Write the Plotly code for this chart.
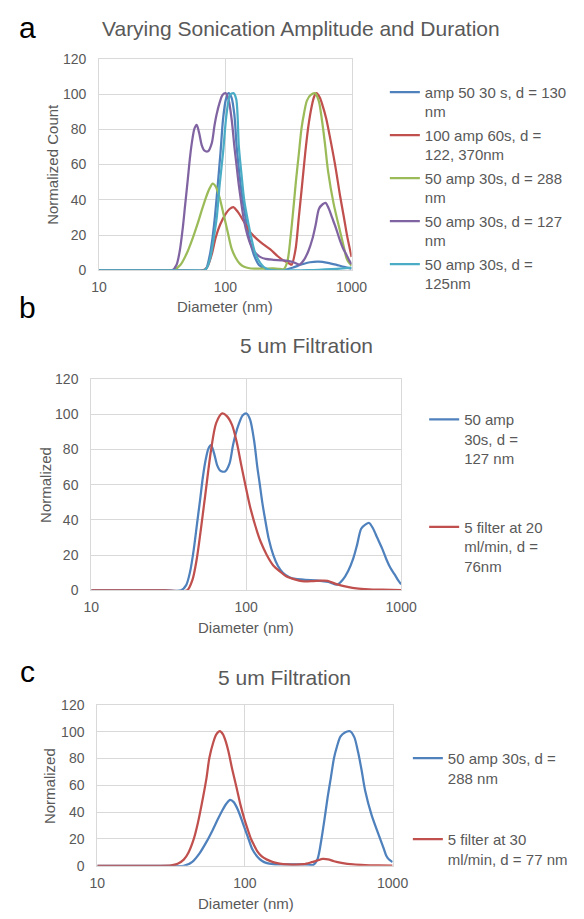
import plotly.graph_objects as go

W, H = 584, 919

# ---------------- data (diameter nm, normalized value) ----------------
# Panel a
a_blue_d = [10, 40, 66, 70, 75, 79, 82.6, 87, 91.6, 96, 101, 106, 112, 118, 123, 130, 137, 144.5, 155, 168, 184.5, 210, 250, 290, 340, 400, 470, 550, 650, 750, 870, 1000]
a_blue_v = [0, 0, 0, 0.5, 8, 18, 30, 48, 67, 86, 97, 100.5, 98, 88, 70, 53, 40, 30, 18, 9, 3, 0.8, 0.3, 0.3, 1.5, 3.3, 4.6, 4.9, 4.2, 3.2, 2.0, 1.0]

a_red_d = [10, 40, 66.6, 72, 78, 84, 91, 100, 108, 115.6, 126, 142, 160, 190, 226, 260, 290, 321, 335, 360, 382, 405, 430, 455, 483, 505, 527, 560, 592, 630, 668, 740, 812, 870, 925, 1000]
a_red_v = [0, 0, 0, 2, 9, 18.8, 26, 31.8, 34.8, 35.9, 33, 27, 21, 16, 12, 8, 5.5, 3.9, 3.2, 12, 30, 48, 67, 82, 93, 98.5, 100.5, 98, 93, 86, 77, 60, 42, 30, 19, 7.6]

# "50 amp 30s, d = 288 nm" (green in a, blue in c)
s288_d = [10, 30, 38.5, 44, 49.4, 55, 60.4, 65, 70.2, 75, 79.4, 84, 90, 97, 104.4, 112, 121, 130, 141, 155, 172, 200, 240, 270, 290, 310, 329, 346, 363, 382, 401, 420, 443, 475, 515, 550, 583, 615, 652, 720, 813, 870, 910, 950, 1000]
s288_v = [0, 0, 0, 3, 9.5, 18, 26.6, 34, 41.3, 46.5, 49.2, 47.5, 41.3, 31.5, 21.8, 12.5, 7, 3.8, 2, 1.2, 1, 1, 1.1, 0.8, 0.6, 5, 19.3, 35, 51, 66, 80.4, 89, 96.3, 99.5, 100.4, 96, 85, 72, 56, 38, 21.8, 13, 7.1, 4.5, 2.7]

# "50 amp 30s, d = 127 nm" (purple in a, blue in b)
s127_d = [10, 30, 38, 41, 43.5, 46, 48, 50.5, 52.6, 55, 57, 59.3, 62, 65, 68, 73, 78, 82, 85, 90, 95, 100.5, 106, 112.5, 118, 122.5, 127, 132.7, 140, 149.6, 160, 172.5, 190, 208.5, 240, 291, 340, 387, 420, 455, 491, 520, 552, 590, 622, 660, 700, 752, 800, 850, 910, 960, 1000]
s127_v = [0, 0, 0, 3, 10.8, 24, 36.8, 52, 64.7, 75, 80.5, 82.5, 78, 71, 68, 67.5, 72, 82, 88, 95, 99.5, 100.5, 97, 85, 70, 60, 50, 40, 29, 20, 14, 10, 7.5, 6.5, 6, 5.6, 4.8, 3.3, 6, 11, 18.2, 26, 35, 37.5, 38.3, 35, 30, 24, 18, 13, 8.9, 5.5, 3.5]

a_cyan_d = [10, 60, 68, 72, 76, 80, 85.5, 90, 96, 102, 109, 116, 122, 128, 134, 141, 150, 160, 172, 190, 210, 240, 350, 450, 550, 700, 850, 1000]
a_cyan_v = [0, 0, 0, 2, 7, 16, 30, 48, 67, 88, 99.5, 100.5, 97, 70, 55, 40, 29, 19, 10, 4, 1, 0, 0, 0.1, 0.3, 0.7, 1.1, 1.5]

# Panel b red: "5 filter at 20 ml/min, d = 76nm"
b_red_d = [10, 30, 41.5, 45, 48, 54, 59.3, 64, 70, 75, 81, 87, 93, 102, 107, 118, 124, 136, 150, 165, 181, 208, 229, 263, 305, 335, 387, 450, 514, 620, 752, 1000]
b_red_v = [0, 0, 0, 6, 18, 51.7, 79.6, 95, 100.5, 99, 94, 84, 71, 54, 46, 33, 27.6, 20, 14, 10.8, 8, 6.1, 5.3, 5.2, 5.5, 5.4, 3.4, 2, 1.1, 0.6, 0.4, 0.2]

# Panel c red: "5 filter at 30 ml/min, d = 77 nm"
c_red_d = [10, 25, 31.6, 35, 38.5, 41.5, 44.8, 48, 52, 55, 57.4, 61, 64, 67.6, 71, 74, 77.4, 82, 87.7, 93, 99, 104.5, 110, 115, 121, 130, 141, 155, 172, 195, 220, 250, 283, 310, 336, 365, 401, 450, 541, 650, 800, 1000]
c_red_v = [0, 0, 0.3, 1.5, 4.6, 10, 19.3, 32, 51, 66, 80.4, 92, 98, 100.4, 98, 93, 85, 72, 58.4, 46, 35, 27, 20, 15.6, 11, 7, 4.6, 2.8, 1.7, 1.1, 0.9, 1.2, 2.7, 4, 5.1, 4.8, 3.4, 2.2, 1, 0.5, 0.3, 0.2]

names_a = ["amp 50 30 s, d = 130<br>nm", "100 amp 60s, d =<br>122, 370nm", "50 amp 30s, d = 288<br>nm",
           "50 amp 30s, d = 127<br>nm", "50 amp 30s, d =<br>125nm"]
names_b = ["50 amp<br>30s, d =<br>127 nm", "5 filter at 20<br>ml/min, d =<br>76nm"]
names_c = ["50 amp 30s, d =<br>288 nm", "5 filter at 30<br>ml/min, d = 77 nm"]

x_ticks = [10, 100, 1000]
y_ticks = [0, 20, 40, 60, 80, 100, 120]

BLUE, RED, GREEN, PURPLE, CYAN = "#4F81BD", "#C0504D", "#9BBB59", "#8064A2", "#4BACC6"
GRID = "#D9D9D9"
TXT = "#595959"
FONT = "Arial, Liberation Sans, sans-serif"

def px(x):
    return x / W

def py(y):
    return 1 - y / H

fig = go.Figure()

def add(xs, ys, name, color, ax, leg):
    fig.add_trace(go.Scatter(
        x=xs, y=ys, name=name, mode="lines",
        line=dict(color=color, width=2.25, shape="spline", smoothing=0.8),
        xaxis="x" + ax, yaxis="y" + ax, legend=leg, legendgroup=name,
        hoverinfo="skip"))

add(a_blue_d, a_blue_v, names_a[0], BLUE, "", "legend")
add(a_red_d, a_red_v, names_a[1], RED, "", "legend")
add(s288_d, s288_v, names_a[2], GREEN, "", "legend")
add(s127_d, s127_v, names_a[3], PURPLE, "", "legend")
add(a_cyan_d, a_cyan_v, names_a[4], CYAN, "", "legend")

add(s127_d, s127_v, names_b[0], BLUE, "2", "legend2")
add(b_red_d, b_red_v, names_b[1], RED, "2", "legend2")

add(s288_d, s288_v, names_c[0], BLUE, "3", "legend3")
add(c_red_d, c_red_v, names_c[1], RED, "3", "legend3")

def xaxis(l, r, anchor):
    return dict(type="log", range=[1, 3], tickvals=x_ticks, ticktext=[str(v) for v in x_ticks],
                domain=[px(l), px(r)], anchor=anchor, showgrid=True, gridcolor=GRID, gridwidth=1,
                showline=True, mirror=True, linecolor=GRID, linewidth=1, ticks="",
                tickfont=dict(size=14, color=TXT, family=FONT), zeroline=False,
                ticklabelstandoff=4)

def yaxis(b, t, anchor):
    return dict(range=[0, 120], tickvals=y_ticks, domain=[py(b), py(t)], anchor=anchor,
                showgrid=True, gridcolor=GRID, gridwidth=1, showline=True, mirror=True,
                linecolor=GRID, linewidth=1, ticks="", zeroline=False,
                tickfont=dict(size=14, color=TXT, family=FONT), ticklabelstandoff=9)

leg_common = dict(font=dict(size=15, color=TXT, family=FONT), bgcolor="rgba(0,0,0,0)",
                  xanchor="left", yanchor="top", valign="top", itemwidth=30,
                  itemclick=False, itemdoubleclick=False)

fig.update_layout(
    width=W, height=H, margin=dict(l=0, r=0, t=0, b=0),
    paper_bgcolor="white", plot_bgcolor="white",
    font=dict(family=FONT, color=TXT),
    xaxis=xaxis(95, 358.3, "y"), yaxis=yaxis(267, 51.7, "x"),
    xaxis2=xaxis(86.8, 410, "y2"), yaxis2=yaxis(592.7, 377.7, "x2"),
    xaxis3=xaxis(93.1, 401.1, "y3"), yaxis3=yaxis(873, 709.3, "x3"),
    legend=dict(x=px(393), y=py(69), tracegroupgap=1, **leg_common),
    legend2=dict(x=px(434), y=py(402), tracegroupgap=46, **leg_common),
    legend3=dict(x=px(417), y=py(747), tracegroupgap=39, **leg_common),
    showlegend=True,
)

def ann(text, x, y, size, color=TXT, angle=0):
    fig.add_annotation(text=text, x=px(x), y=py(y), xref="paper", yref="paper",
                       xanchor="center", yanchor="middle", showarrow=False, textangle=angle,
                       font=dict(size=size, color=color, family=FONT))

ann("Varying Sonication Amplitude and Duration", 306, 21, 21)
ann("5 um Filtration", 311.7, 343.3, 21)
ann("5 um Filtration", 288.6, 681, 21)
ann("a", 20.5, 20, 30, "#000000")
ann("b", 20.5, 305, 30, "#000000")
ann("c", 20.5, 675, 30, "#000000")
ann("Diameter (nm)", 226.7, 304, 15)
ann("Diameter (nm)", 248.6, 630.7, 15)
ann("Diameter (nm)", 247.7, 911.7, 15)
ann("Normalized Count", 46.5, 159, 15, angle=-90)
ann("Normalized", 39, 485, 15, angle=-90)
ann("Normalized", 44, 791.7, 15, angle=-90)

fig.write_html("out.html")
